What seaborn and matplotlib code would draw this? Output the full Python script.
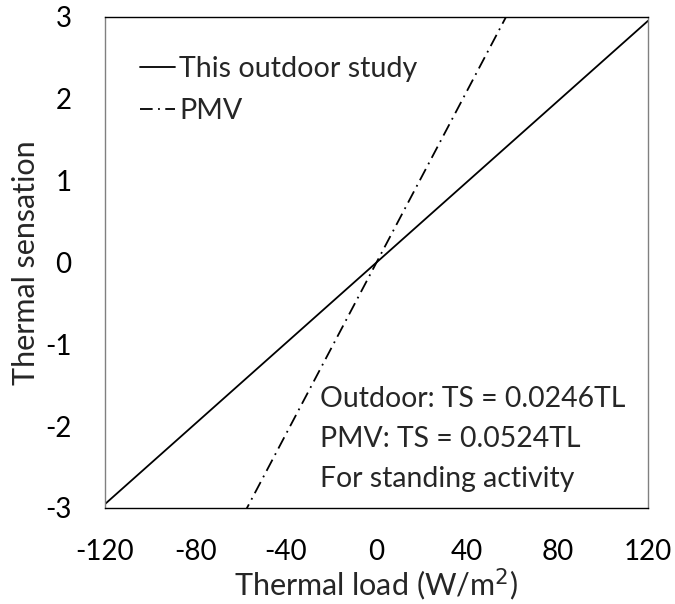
import numpy as np
import pandas as pd
import seaborn as sns
import matplotlib
matplotlib.use("Agg")
import matplotlib.pyplot as plt

sns.set_theme(style="white")
plt.rcParams["font.family"] = ["Lato", "DejaVu Sans"]
plt.rcParams["axes.unicode_minus"] = False

# Regression slopes (thermal sensation per W/m2 of thermal load)
series_names = ["This outdoor study", "PMV"]
slopes = [0.0246, 0.0524]
thermal_load = [-120, 120]

x_ticks = [-120, -80, -40, 0, 40, 80, 120]
y_ticks = [-3, -2, -1, 0, 1, 2, 3]

notes = ["Outdoor: TS = 0.0246TL", "PMV: TS = 0.0524TL", "For standing activity"]

rows = []
for name, k in zip(series_names, slopes):
    for tl in thermal_load:
        rows.append({"Thermal load": tl, "Thermal sensation": k * tl, "Model": name})
df = pd.DataFrame(rows)

fig = plt.figure(figsize=(6.75, 6.04), dpi=100)
ax = fig.add_axes([0.1556, 0.159, 0.8044, 0.813])

sns.lineplot(data=df, x="Thermal load", y="Thermal sensation", hue="Model",
             style="Model", palette=["black", "black"],
             dashes={"This outdoor study": "", "PMV": (7, 3, 1, 3)},
             linewidth=1.3, ax=ax, legend=True)

ax.set_xlim(-120, 120)
ax.set_ylim(-3, 3)
ax.set_xticks(x_ticks)
ax.set_yticks(y_ticks)
ax.tick_params(axis="both", length=0, labelsize=20, colors="black")
ax.tick_params(axis="x", pad=22)
ax.tick_params(axis="y", pad=24)
ax.set_xlabel("Thermal load (W/m$^2$)", fontsize=22, labelpad=1)
ax.set_ylabel("Thermal sensation", fontsize=22, labelpad=4)

for side, col in [("left", "#808080"), ("right", "#808080"),
                  ("top", "black"), ("bottom", "black")]:
    ax.spines[side].set_visible(True)
    ax.spines[side].set_color(col)
    ax.spines[side].set_linewidth(1.0)

leg = ax.legend(loc="upper left", bbox_to_anchor=(0.044, 0.944), frameon=False,
                fontsize=20.6, handlelength=1.2, handletextpad=0.15,
                labelspacing=0.55, borderaxespad=0)
for h in leg.get_lines():
    h.set_linewidth(1.3)

for note, yf in zip(notes, [0.2215, 0.140, 0.059]):
    ax.text(0.396, yf, note, transform=ax.transAxes, fontsize=20.4,
            va="center", ha="left")

fig.savefig("out.png", dpi=100)
